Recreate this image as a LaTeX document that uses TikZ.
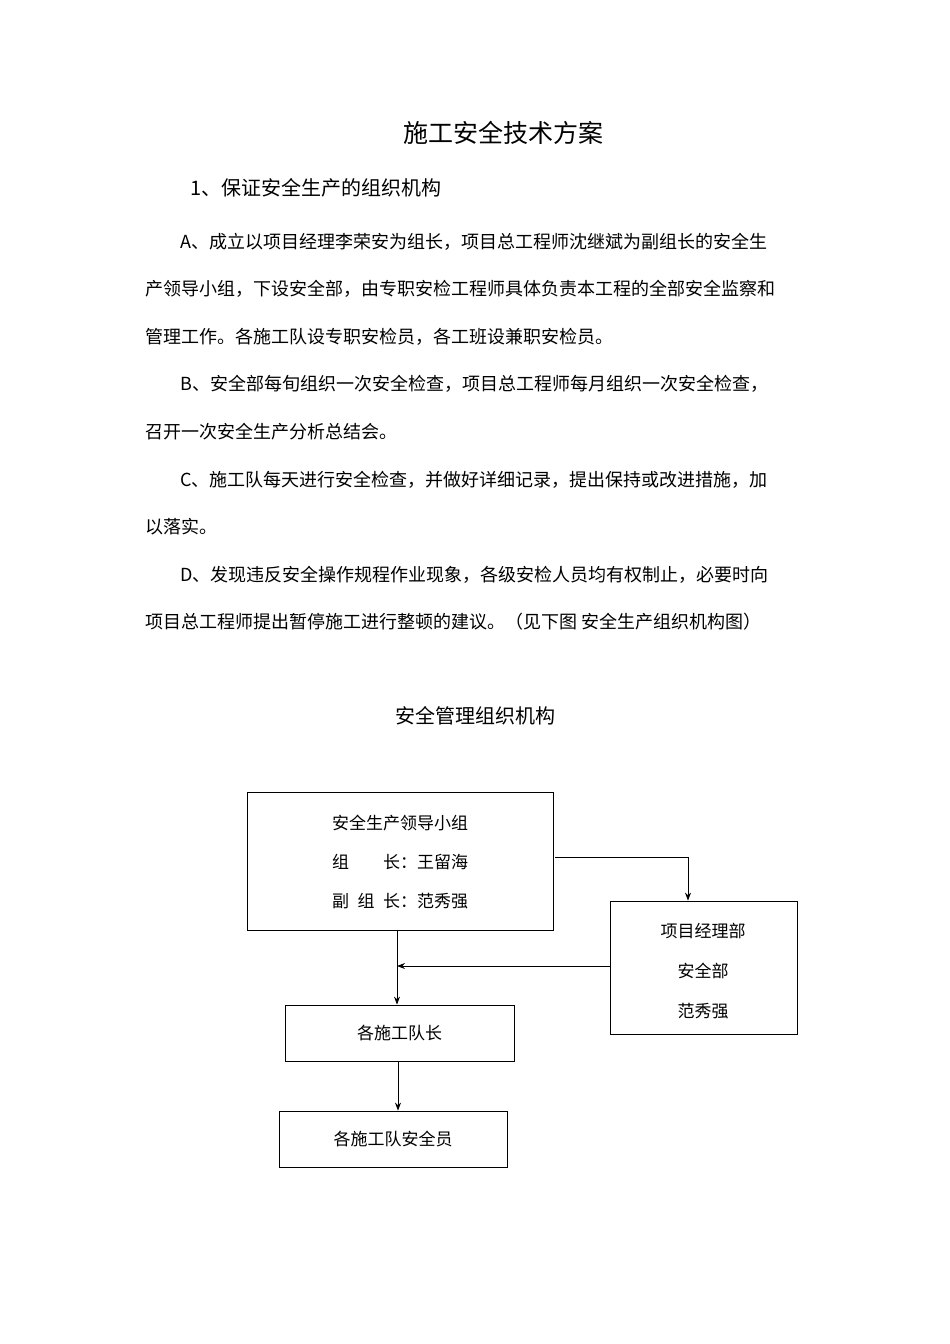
\documentclass[tikz,border=0pt]{standalone}
\usepackage{fontspec}
\setmainfont{Noto Sans CJK SC}
\usetikzlibrary{arrows.meta}
\begin{document}
\begin{tikzpicture}[x=1pt,y=-1pt,
  body/.style={anchor=west,inner sep=0pt,font=\fontsize{18}{20}\selectfont},
  box/.style={draw,line width=0.8pt,inner sep=0pt},
  lbl/.style={inner sep=0pt,font=\fontsize{17}{20}\selectfont},
  arr/.style={line width=0.8pt,-{Stealth[length=8pt,width=6pt]}}]
\path[use as bounding box,fill=white] (0,0) rectangle (950,1344);
\node[inner sep=0pt,font=\fontsize{25}{28}\selectfont] (title) at (503,133) {施工安全技术方案};
\node[body,font=\fontsize{20}{22}\selectfont] (h1) at (190,188) {1、保证安全生产的组织机构};
\node[body] (l1) at (180,242) {A、成立以项目经理李荣安为组长，项目总工程师沈继斌为副组长的安全生};
\node[body] (l2) at (145,289) {产领导小组，下设安全部，由专职安检工程师具体负责本工程的全部安全监察和};
\node[body] (l3) at (145,337) {管理工作。各施工队设专职安检员，各工班设兼职安检员。};
\node[body] (l4) at (180,384) {B、安全部每旬组织一次安全检查，项目总工程师每月组织一次安全检查，};
\node[body] (l5) at (145,432) {召开一次安全生产分析总结会。};
\node[body] (l6) at (180,480) {C、施工队每天进行安全检查，并做好详细记录，提出保持或改进措施，加};
\node[body] (l7) at (145,527) {以落实。};
\node[body] (l8) at (180,575) {D、发现违反安全操作规程作业现象，各级安检人员均有权制止，必要时向};
\node[body] (l9) at (145,622) {项目总工程师提出暂停施工进行整顿的建议。（见下图 安全生产组织机构图）};
\node[inner sep=0pt,font=\fontsize{20}{22}\selectfont] (dt) at (475,716) {安全管理组织机构};

\draw[box] (247,792) rectangle (553,930);
\node[box,draw=none,minimum width=306pt,minimum height=138pt] (b1) at (400,861) {};
\node[lbl] (b1a) at (400,823) {安全生产领导小组};
\node[lbl] (b1b) at (400,862) {组\hspace{2em}长：王留海};
\node[lbl] (b1c) at (400,901) {副\hspace{0.5em}组\hspace{0.5em}长：范秀强};

\node[box,minimum width=187pt,minimum height=133pt] (b2) at (703.5,967.5) {};
\node[lbl] (b2a) at (703,931) {项目经理部};
\node[lbl] (b2b) at (703,971) {安全部};
\node[lbl] (b2c) at (703,1011) {范秀强};

\node[box,minimum width=229pt,minimum height=56pt,lbl,draw] (b3) at (399.5,1033) {各施工队长};
\node[box,minimum width=228pt,minimum height=56pt,lbl,draw] (b4) at (393,1139) {各施工队安全员};

\coordinate (c1) at (555,857);
\coordinate (c2) at (688,857);
\coordinate (c3) at (397,966);
\draw[line width=0.8pt] (c1) -- (c2);
\draw[arr] (c2) -- (b2.north -| c2);
\draw[arr] (b2.west |- c3) -- (c3);
\draw[arr] (397,930) -- (b3.north -| c3);
\draw[arr] (b3.south -| 398,0) -- (b4.north -| 398,0);
\end{tikzpicture}
\end{document}
